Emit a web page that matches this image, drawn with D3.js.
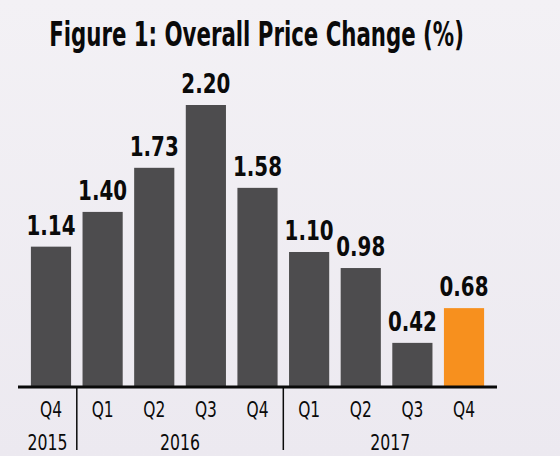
<!DOCTYPE html>
<html>
<head>
<meta charset="utf-8">
<script src="https://cdn.jsdelivr.net/npm/d3@7"></script>
<style>
  html, body { margin: 0; padding: 0; background: #f1eff4; }
  svg { display: block; }
</style>
</head>
<body>
<svg id="chart" width="560" height="456"></svg>
<script>
const quarters = ["Q4", "Q1", "Q2", "Q3", "Q4", "Q1", "Q2", "Q3", "Q4"];
const years = ["2015", "2016", "2016", "2016", "2016", "2017", "2017", "2017", "2017"];
const priceChange = [1.14, 1.40, 1.73, 2.20, 1.58, 1.10, 0.98, 0.42, 0.68];
const highlight = [false, false, false, false, false, false, false, false, true];

const width = 560, height = 456;
const axisY = 387;
const font = "'DejaVu Sans', sans-serif";

const svg = d3.select("#chart");

// background gradient
const defs = svg.append("defs");
const grad = defs.append("linearGradient")
  .attr("id", "bg").attr("x1", 0).attr("y1", 0).attr("x2", 0).attr("y2", 1);
grad.append("stop").attr("offset", "0%").attr("stop-color", "#f3f1f5");
grad.append("stop").attr("offset", "100%").attr("stop-color", "#ece9f0");
svg.append("rect").attr("width", width).attr("height", height).attr("fill", "url(#bg)");

// scales
const idx = d3.range(priceChange.length);
const x = d3.scaleBand()
  .domain(idx)
  .range([18, 497])
  .paddingInner(0.222)
  .paddingOuter(0.25);

const y = d3.scaleLinear()
  .domain([0, 2.2])
  .range([399, 105]);

// condensed look: squeeze each text horizontally about its own x to a target width
function squeeze(sel, len) {
  sel.style("font-stretch", "condensed").each(function() {
    const t = d3.select(this);
    const w = this.getComputedTextLength();
    const cx = +t.attr("x") || 0;
    const cy = +t.attr("y") || 0;
    const s = len / w;
    t.attr("transform", `${t.attr("transform") || ""} translate(${cx},${cy}) scale(${s},1) translate(${-cx},${-cy})`);
  });
}

// title
svg.append("text")
  .attr("x", 256.5)
  .attr("y", 46)
  .attr("text-anchor", "middle")
  .style("font-family", font)
  .style("font-weight", "bold")
  .style("font-size", "34px")
  .style("fill", "#0a0a0a")
  .text("Figure 1: Overall Price Change (%)")
  .call(squeeze, 415);

// bars
svg.selectAll(".bar")
  .data(idx)
  .enter().append("rect")
  .attr("class", "bar")
  .attr("x", i => x(i))
  .attr("y", i => y(priceChange[i]))
  .attr("width", x.bandwidth())
  .attr("height", i => axisY - y(priceChange[i]))
  .attr("fill", i => highlight[i] ? "#f7901e" : "#4d4c4e");

// value labels
svg.selectAll(".val")
  .data(idx)
  .enter().append("text")
  .attr("class", "val")
  .attr("x", i => x(i) + x.bandwidth() / 2)
  .attr("y", i => y(priceChange[i]) - 12)
  .attr("text-anchor", "middle")
  .style("font-family", font)
  .style("font-weight", "bold")
  .style("font-size", "26px")
  .style("fill", "#0a0a0a")
  .text(i => priceChange[i].toFixed(2))
  .call(squeeze, 49);

// x axis line
const xAxis = d3.axisBottom(x).tickSize(0).tickFormat(i => quarters[i]);
const axisG = svg.append("g")
  .attr("transform", `translate(0, ${axisY})`)
  .call(xAxis);
axisG.select(".domain")
  .attr("d", `M18,0H497`)
  .attr("stroke", "#0a0a0a")
  .attr("stroke-width", 3);
axisG.selectAll("text")
  .attr("dy", 0)
  .attr("x", 0)
  .attr("y", 30)
  .style("font-family", font)
  .style("font-size", "21px")
  .style("fill", "#0a0a0a")
  .call(squeeze, 22);

// year groups and separators
const yearGroups = d3.groups(idx, i => years[i]);
const bounds = [];
yearGroups.forEach(([yr, list], k) => {
  const first = list[0], last = list[list.length - 1];
  const left = k === 0 ? 18 : x(first) - x.step() * x.paddingInner() / 2;
  const right = k === yearGroups.length - 1 ? 497 : x(last) + x.bandwidth() + x.step() * x.paddingInner() / 2;
  bounds.push({ yr, left, right });
});

svg.selectAll(".year")
  .data(bounds)
  .enter().append("text")
  .attr("class", "year")
  .attr("x", d => (d.left + d.right) / 2)
  .attr("y", 450)
  .attr("text-anchor", "middle")
  .style("font-family", font)
  .style("font-size", "21px")
  .style("fill", "#0a0a0a")
  .text(d => d.yr)
  .call(squeeze, 40);

svg.selectAll(".sep")
  .data(bounds.slice(1))
  .enter().append("line")
  .attr("class", "sep")
  .attr("x1", d => d.left).attr("x2", d => d.left)
  .attr("y1", axisY).attr("y2", 450)
  .attr("stroke", "#0a0a0a")
  .attr("stroke-width", 1.5);
</script>
</body>
</html>
